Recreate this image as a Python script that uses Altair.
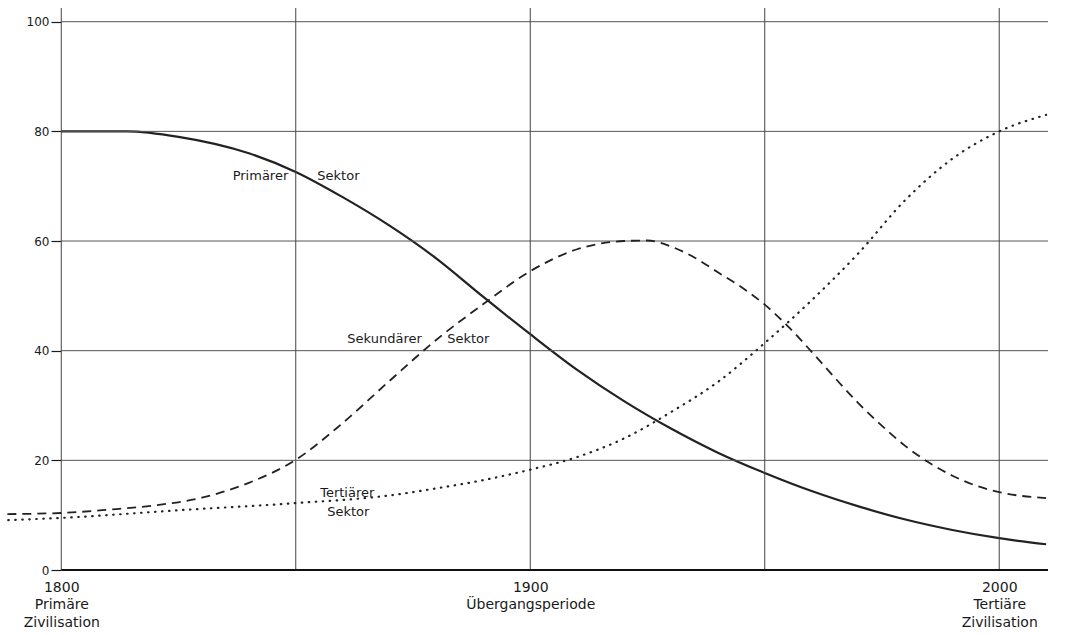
import altair as alt
import pandas as pd

# --- data ---
primary_years = [1800, 1814, 1825, 1840, 1850, 1860, 1870, 1880, 1890, 1900, 1910, 1920, 1930, 1940, 1950, 1960, 1970, 1980, 1990, 2000, 2010]
primary_vals  = [80, 80, 79.0, 76.0, 72.6, 68.0, 62.8, 56.8, 49.8, 43.0, 36.5, 30.8, 25.8, 21.4, 17.7, 14.4, 11.6, 9.2, 7.3, 5.8, 4.7]

secondary_years = [1788.5, 1800, 1810, 1820, 1830, 1840, 1850, 1860, 1870, 1880, 1890, 1900, 1910, 1920, 1925,
                   1930, 1935, 1940, 1945, 1950, 1955, 1960, 1965, 1970, 1975, 1980, 1985, 1990, 1995, 2000, 2010]
secondary_vals  = [10.2, 10.4, 11.0, 11.8, 13.2, 15.9, 20.1, 26.8, 34.5, 42.0, 48.5, 54.5, 58.5, 60.0, 60.1,
                   59.0, 57.0, 54.3, 51.6, 48.4, 44.4, 39.8, 35.0, 30.4, 26.3, 22.6, 19.6, 17.2, 15.4, 14.2, 13.1]

tertiary_years = [1788.7, 1800, 1825, 1850, 1870, 1880, 1890, 1900, 1910, 1920, 1930, 1940, 1950, 1960, 1970, 1980, 1990, 2000, 2010]
tertiary_vals  = [9.1, 9.5, 10.9, 12.2, 13.6, 14.9, 16.4, 18.3, 20.6, 24.0, 28.8, 34.3, 41.4, 49.2, 57.8, 67.5, 75.0, 80.0, 83.0]

y_ticks = [0, 20, 40, 60, 80, 100]
grid_y = [20, 40, 60, 80, 100]
grid_x = [1800, 1850, 1900, 1950, 2000]
x_tick_values = [1800, 1900, 2000]
x_tick_labels = [["1800", "Primäre", "Zivilisation"], ["1900", "Übergangsperiode"], ["2000", "Tertiäre", "Zivilisation"]]

ann_text  = ["Primärer", "Sektor", "Sekundärer", "Sektor", "Tertiärer", "Sektor"]
ann_year  = [1848.4, 1854.6, 1861.0, 1882.3, 1855.2, 1856.7]
ann_val   = [71.9, 71.9, 42.1, 42.1, 14.0, 10.6]
ann_align = ["right", "left", "left", "left", "left", "left"]

X_MIN, X_MAX = 1788, 2010.4
FONT = "DejaVu Sans"
INK = "#1a1a1a"

xscale = alt.Scale(domain=[X_MIN, X_MAX], nice=False, zero=False)
yscale = alt.Scale(domain=[0, 102.5], nice=False, zero=False)

def label_expr():
    expr = "''"
    for v, lab in reversed(list(zip(x_tick_values, x_tick_labels))):
        arr = "[" + ",".join("'" + s + "'" for s in lab) + "]"
        expr = f"datum.value == {v} ? {arr} : ({expr})"
    return expr

x_axis = alt.Axis(values=x_tick_values, labelExpr=label_expr(), domain=False, ticks=False, grid=False,
                  title=None, labelFont=FONT, labelFontSize=14, labelLineHeight=17.5, labelPadding=10,
                  labelColor=INK, labelOverlap=False, labelFlush=False, labelBaseline="top")
y_axis = alt.Axis(values=y_ticks, offset=-56, domain=False, grid=False, title=None,
                  tickSize=10, tickColor=INK, tickWidth=1.2, labelPadding=2,
                  labelFont=FONT, labelFontSize=12, labelColor=INK)

def X(field):
    return alt.X(field, type="quantitative", scale=xscale, axis=x_axis)

def Y(field):
    return alt.Y(field, type="quantitative", scale=yscale, axis=y_axis)

def series_df(name, years, vals):
    return pd.DataFrame({"series": name, "year": years, "value": vals})

df_p = series_df("Primär", primary_years, primary_vals)
df_s = series_df("Sekundär", secondary_years, secondary_vals)
df_t = series_df("Tertiär", tertiary_years, tertiary_vals)

# gridlines
hgrid = alt.Chart(pd.DataFrame({"v": grid_y})).mark_rule(color="#555", strokeWidth=1).encode(
    y=Y("v"),
    x=alt.XDatum(1800, type="quantitative", scale=xscale, axis=x_axis),
    x2=alt.X2Datum(X_MAX),
)
vgrid = alt.Chart(pd.DataFrame({"v": grid_x})).mark_rule(color="#444", strokeWidth=1).encode(
    x=X("v"),
)
base_rule = alt.Chart(pd.DataFrame({"v": [0]})).mark_rule(color="#111", strokeWidth=1.8).encode(
    y=Y("v"),
    x=alt.XDatum(1800, type="quantitative", scale=xscale, axis=x_axis),
    x2=alt.X2Datum(X_MAX),
)

primary = alt.Chart(df_p).mark_line(color="#222", strokeWidth=2.2, interpolate="monotone").encode(
    x=X("year"), y=Y("value"))
secondary = alt.Chart(df_s).mark_line(color="#222", strokeWidth=1.8, strokeDash=[9, 6], interpolate="monotone").encode(
    x=X("year"), y=Y("value"))
tertiary = alt.Chart(df_t).mark_line(color="#222", strokeWidth=2.2, strokeDash=[0.5, 6.5], strokeCap="round",
                                     interpolate="monotone").encode(x=X("year"), y=Y("value"))

ann_df = pd.DataFrame({"t": ann_text, "year": ann_year, "value": ann_val, "align": ann_align})
ann_r = alt.Chart(ann_df).transform_filter("datum.align == 'right'").mark_text(
    align="right", baseline="middle", font=FONT, fontSize=13, color=INK).encode(
    x=X("year"), y=Y("value"), text="t:N")
ann_l = alt.Chart(ann_df).transform_filter("datum.align == 'left'").mark_text(
    align="left", baseline="middle", font=FONT, fontSize=13, color=INK).encode(
    x=X("year"), y=Y("value"), text="t:N")

chart = alt.layer(primary, hgrid, vgrid, base_rule, secondary, tertiary, ann_r, ann_l).properties(
    width=1043, height=562,
    autosize=alt.AutoSizeParams(type="none"),
    padding={"left": 5, "top": 8, "right": 17, "bottom": 65},
    background="white",
).configure_view(stroke=None)

chart.save("out.html", embed_options={"renderer": "svg", "actions": False})
